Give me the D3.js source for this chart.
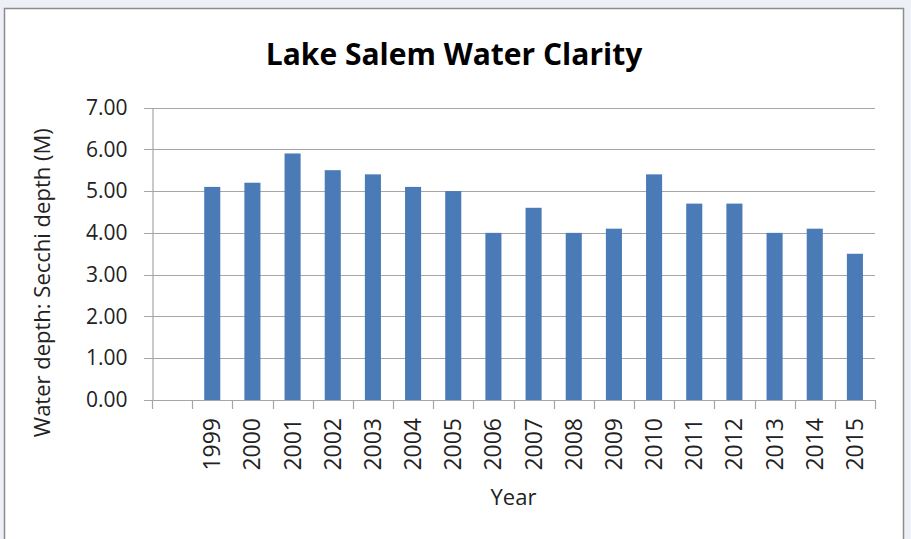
<!DOCTYPE html>
<html>
<head>
<meta charset="utf-8">
<script src="https://cdn.jsdelivr.net/npm/d3@7"></script>
<style>
  body { margin: 0; background: #eef0f8; }
  svg { display: block; }
</style>
</head>
<body>
<div id="container"></div>
<script>
const years = ["", "1999", "2000", "2001", "2002", "2003", "2004", "2005", "2006",
  "2007", "2008", "2009", "2010", "2011", "2012", "2013", "2014", "2015"];
const depths = [null, 5.1, 5.2, 5.9, 5.5, 5.4, 5.1, 5.0, 4.0,
  4.6, 4.0, 4.1, 5.4, 4.7, 4.7, 4.0, 4.1, 3.5];
const yTicks = [0, 1, 2, 3, 4, 5, 6, 7];

const width = 911, height = 539;
const margin = { top: 107.5, right: 36, bottom: 139, left: 152 };
const font = "'Open Sans', 'Noto Sans', sans-serif";

const svg = d3.select("#container")
  .append("svg")
  .attr("width", width)
  .attr("height", height);

// chart frame
svg.append("rect")
  .attr("x", 4.5).attr("y", 8.5)
  .attr("width", 899).attr("height", 560)
  .attr("fill", "#fff")
  .attr("stroke", "#8c8c8c")
  .attr("stroke-width", 1.5);

const x = d3.scaleBand()
  .domain(years)
  .range([margin.left, width - margin.right])
  .padding(0);

const y = d3.scaleLinear()
  .domain([0, 7])
  .range([height - margin.bottom, margin.top]);

// gridlines
svg.append("g")
  .selectAll("line")
  .data(yTicks)
  .enter()
  .append("line")
  .attr("x1", margin.left - 8)
  .attr("x2", width - margin.right)
  .attr("y1", d => Math.round(y(d)) + 0.5)
  .attr("y2", d => Math.round(y(d)) + 0.5)
  .attr("stroke", "#a6a6a6")
  .attr("stroke-width", 1.2);

// y axis
const yAxis = d3.axisLeft(y)
  .tickValues(yTicks)
  .tickFormat(d3.format(".2f"))
  .tickSize(0)
  .tickPadding(25);

const gy = svg.append("g")
  .attr("transform", `translate(${margin.left + 0.5},0)`)
  .call(yAxis);
gy.select(".domain").attr("stroke", "#a6a6a6").attr("stroke-width", 1.2);
gy.selectAll("text")
  .attr("font-family", font)
  .attr("font-size", 21)
  .attr("fill", "#222");

// bars
svg.append("g")
  .selectAll("rect")
  .data(years.map((yr, i) => ({ yr, v: depths[i] })).filter(d => d.v != null))
  .enter()
  .append("rect")
  .attr("x", d => x(d.yr) + x.bandwidth() * 0.3)
  .attr("width", x.bandwidth() * 0.4)
  .attr("y", d => y(d.v))
  .attr("height", d => y(0) - y(d.v))
  .attr("fill", "#4a7bb7");

// x axis: boundary ticks
const gx = svg.append("g");
gx.append("line")
  .attr("x1", margin.left)
  .attr("x2", width - margin.right)
  .attr("y1", Math.round(y(0)) + 0.5)
  .attr("y2", Math.round(y(0)) + 0.5)
  .attr("stroke", "#a6a6a6")
  .attr("stroke-width", 1.2);

gx.selectAll(".tick-b")
  .data(years.map(d => x(d)).concat([x(years[years.length - 1]) + x.bandwidth()]))
  .enter()
  .append("line")
  .attr("class", "tick-b")
  .attr("x1", d => Math.round(d) + 0.5)
  .attr("x2", d => Math.round(d) + 0.5)
  .attr("y1", Math.round(y(0)))
  .attr("y2", Math.round(y(0)) + 9)
  .attr("stroke", "#a6a6a6")
  .attr("stroke-width", 1.2);

// x labels, rotated
gx.selectAll(".xlab")
  .data(years.filter(d => d !== ""))
  .enter()
  .append("text")
  .attr("class", "xlab")
  .attr("transform", d => `translate(${x(d) + x.bandwidth() / 2 + 8},${y(0) + 18}) rotate(-90)`)
  .attr("text-anchor", "end")
  .attr("font-family", font)
  .attr("font-size", 23)
  .attr("fill", "#222")
  .text(d => d);

// title
svg.append("text")
  .attr("x", 454)
  .attr("y", 65)
  .attr("text-anchor", "middle")
  .attr("font-family", font)
  .attr("font-weight", "bold")
  .attr("font-size", 30)
  .attr("fill", "#000")
  .text("Lake Salem Water Clarity");

// axis titles
svg.append("text")
  .attr("x", (margin.left + width - margin.right) / 2)
  .attr("y", 505)
  .attr("text-anchor", "middle")
  .attr("font-family", font)
  .attr("font-size", 22)
  .attr("fill", "#222")
  .text("Year");

svg.append("text")
  .attr("transform", `translate(50,${(y(0) + y(7)) / 2 + 29}) rotate(-90)`)
  .attr("text-anchor", "middle")
  .attr("font-family", font)
  .attr("font-size", 22)
  .attr("fill", "#222")
  .text("Water depth: Secchi depth (M)");
</script>
</body>
</html>
